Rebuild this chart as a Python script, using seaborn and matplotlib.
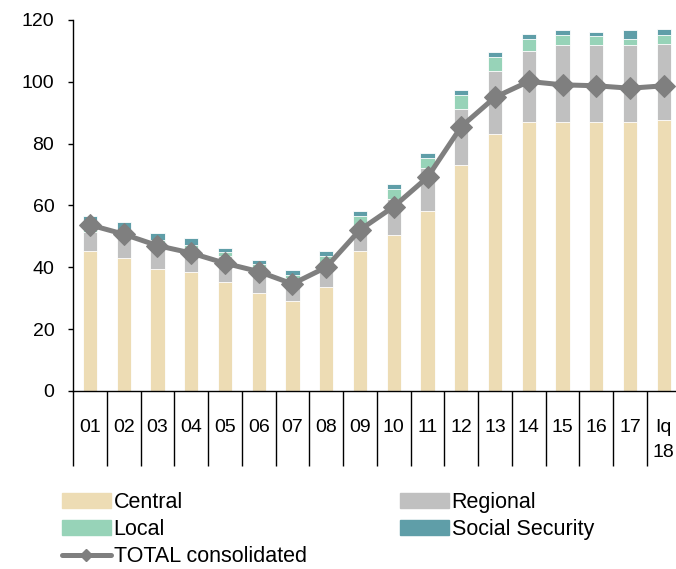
import matplotlib
matplotlib.use("Agg")
import matplotlib.pyplot as plt
import numpy as np
import pandas as pd
import seaborn as sns
from matplotlib.lines import Line2D
from matplotlib.patches import Patch

years = ['01', '02', '03', '04', '05', '06', '07', '08', '09', '10',
         '11', '12', '13', '14', '15', '16', '17', 'Iq\n18']
central = [45.1, 42.9, 39.5, 38.5, 35.2, 31.8, 29.2, 33.5, 45.1, 50.5,
           58.3, 73.1, 83.0, 86.9, 86.9, 86.9, 86.9, 87.5]
regional = [6.4, 6.6, 6.8, 7.7, 8.3, 7.6, 7.3, 5.9, 8.6, 11.5,
            13.7, 18.1, 20.5, 23.0, 24.9, 24.9, 24.9, 24.8]
local = [3.0, 2.6, 2.6, 1.0, 1.3, 1.6, 1.0, 4.1, 2.9, 3.4,
         3.3, 4.6, 4.4, 4.0, 3.2, 2.9, 2.1, 2.7]
social = [2.1, 2.4, 2.2, 2.3, 1.4, 1.4, 1.7, 1.6, 1.7, 1.6,
          1.6, 1.6, 1.7, 1.7, 1.7, 1.4, 2.8, 2.2]
total = [53.7, 50.7, 47.0, 44.6, 41.3, 38.6, 34.6, 40.0, 52.1, 59.6,
         69.1, 85.5, 95.0, 100.1, 99.0, 98.7, 97.9, 98.7]

colors = {'Central': '#eddcb4', 'Regional': '#c0c0c0',
          'Local': '#97d3b8', 'Social Security': '#5f9ea8'}

sns.set_style('white')
plt.rcParams['font.family'] = ['Liberation Sans', 'DejaVu Sans']
plt.rcParams['font.size'] = 14
plt.rcParams['text.color'] = 'black'
plt.rcParams['xtick.color'] = 'black'
plt.rcParams['ytick.color'] = 'black'

df = pd.DataFrame({'year': years, 'Central': central, 'Regional': regional,
                   'Local': local, 'Social Security': social})
# cumulative heights, drawn from the top down so each layer overlays the next
cum = df[['Central', 'Regional', 'Local', 'Social Security']].cumsum(axis=1)

fig = plt.figure(figsize=(6.76, 5.69), dpi=100)
ax = fig.add_axes([0.108, 0.313, 0.899, 0.652])

for comp in ['Social Security', 'Local', 'Regional', 'Central']:
    sns.barplot(x=df['year'], y=cum[comp], color=colors[comp], width=0.42,
                edgecolor='white', linewidth=0.6, saturation=1, ax=ax)

sns.lineplot(x=np.arange(len(years)), y=total, color='#7f7f7f', lw=3.6,
             marker='D', markersize=11, markeredgecolor='#7f7f7f', ax=ax)

ax.set_xlim(-0.5, len(years) - 0.5)
ax.set_ylim(0, 120)
ax.set_yticks(np.arange(0, 121, 20))
ax.set_xlabel('')
ax.set_ylabel('')
ax.set_xticks(np.arange(len(years)))
ax.set_xticklabels(years, linespacing=1.6)
ax.set_xticks(np.arange(-0.5, len(years)), minor=True)
ax.tick_params(axis='x', which='major', length=0, pad=20.5)
ax.tick_params(axis='x', which='minor', bottom=True, length=54, width=1,
               color='black', direction='out')
ax.tick_params(axis='y', length=3.5, width=1, color='black', pad=10,
               direction='out', left=True)
for s in ['top', 'right']:
    ax.spines[s].set_visible(False)
for s in ['left', 'bottom']:
    ax.spines[s].set_color('black')
    ax.spines[s].set_linewidth(1)

handles = [Patch(color=colors['Central']), Patch(color=colors['Local']),
           Line2D([], [], color='#7f7f7f', lw=3.6, marker='D', markersize=6),
           Patch(color=colors['Regional']), Patch(color=colors['Social Security'])]
labels = ['Central', 'Local', 'TOTAL consolidated', 'Regional', 'Social Security']
fig.legend(handles, labels, ncol=2, loc='upper left', fontsize=15.5,
           bbox_to_anchor=(0.092, 0.135), bbox_transform=fig.transFigure,
           frameon=False, handlelength=2.25, handleheight=0.65,
           handletextpad=0.14, labelspacing=0.28, columnspacing=4.35,
           borderpad=0, borderaxespad=0)

fig.savefig('out.png', dpi=100)
